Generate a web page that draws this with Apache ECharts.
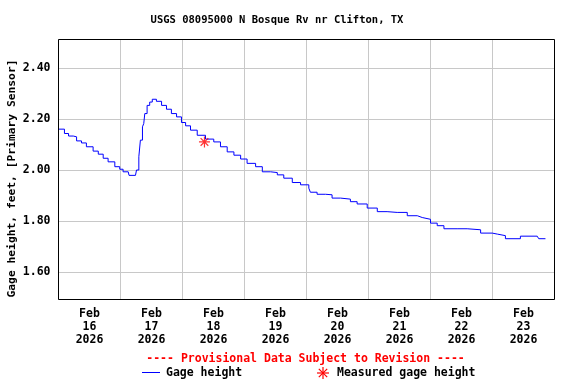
<!DOCTYPE html>
<html>
<head>
<meta charset="utf-8">
<script src="https://cdn.jsdelivr.net/npm/echarts@6/dist/echarts.min.js"></script>
<style>html,body{margin:0;padding:0;background:#fff}#c{width:576px;height:384px}</style>
</head>
<body>
<div id="c"></div>
<script>
// hours since Feb 16 2026 00:00
const gageHours = [0,2.3,3.9,5.7,7.0,8.9,10.8,13.4,15.4,17.3,19.2,21.8,23.7,25.0,27.0,27.3,29.8,30.2,31.1,31.7,32.5,33.0,33.4,34.3,35.3,36.3,37.9,39.9,41.8,43.7,45.7,47.6,49.2,51.1,53.7,56.9,60.1,62.7,65.3,67.9,70.5,73.0,76.3,78.9,82.1,84.7,87.2,90.5,93.7,96.9,97.5,100.1,103.4,105.9,109.2,113.0,115.6,119.5,123.4,127.2,131.1,135.0,138.9,140.8,144.0,146.6,149.2,154.3,158.2,163.4,167.9,169.9,173.0,178.8,185.3,185.9,188.5];
const gageValues = [2.160,2.143,2.133,2.130,2.114,2.106,2.091,2.074,2.062,2.046,2.032,2.013,2.003,1.993,1.987,1.979,1.979,2.000,2.052,2.117,2.169,2.182,2.221,2.253,2.266,2.277,2.269,2.253,2.238,2.221,2.208,2.186,2.173,2.156,2.136,2.121,2.110,2.091,2.071,2.058,2.043,2.026,2.013,1.993,1.990,1.981,1.968,1.951,1.942,1.929,1.913,1.905,1.903,1.890,1.886,1.876,1.867,1.851,1.837,1.834,1.834,1.821,1.814,1.807,1.792,1.782,1.770,1.770,1.766,1.753,1.749,1.743,1.731,1.741,1.741,1.731,1.731];
const measuredHours = [56.5];
const measuredValues = [2.11];
const yTicks = [1.60, 1.80, 2.00, 2.20, 2.40];
const xLabelHours = [12, 36, 60, 84, 108, 132, 156, 180];
const xTickLabels = ['Feb\n16\n2026','Feb\n17\n2026','Feb\n18\n2026','Feb\n19\n2026','Feb\n20\n2026','Feb\n21\n2026','Feb\n22\n2026','Feb\n23\n2026'];

const FONT = '"DejaVu Sans Mono", "Liberation Mono", monospace';
const ASTER = 'path://M6,0L6,12M0,6L12,6M1.8,1.8L10.2,10.2M1.8,10.2L10.2,1.8';

function asterLines(cx, cy, r, d) {
  const s = {stroke: '#ff0000', lineWidth: 1.2};
  return [
    {type: 'line', shape: {x1: cx, y1: cy - r, x2: cx, y2: cy + r}, style: s},
    {type: 'line', shape: {x1: cx - r, y1: cy, x2: cx + r, y2: cy}, style: s},
    {type: 'line', shape: {x1: cx - d, y1: cy - d, x2: cx + d, y2: cy + d}, style: s},
    {type: 'line', shape: {x1: cx - d, y1: cy + d, x2: cx + d, y2: cy - d}, style: s}
  ];
}

const chart = echarts.init(document.getElementById('c'), null, {renderer: 'canvas'});
chart.setOption({
  animation: false,
  backgroundColor: '#fff',
  textStyle: {fontFamily: FONT},
  grid: {left: 58.5, right: 21.5, top: 39.5, bottom: 84.5, show: true, borderColor: '#000', borderWidth: 1, containLabel: false, z: 5},
  xAxis: {
    type: 'value', min: 0, max: 192, interval: 24,
    axisLine: {show: false}, axisTick: {show: false},
    splitLine: {show: true, lineStyle: {color: '#c8c8c8', width: 1}},
    axisLabel: {
      customValues: xLabelHours,
      formatter: v => xTickLabels[xLabelHours.indexOf(Math.round(v))] || '',
      fontFamily: FONT, fontWeight: 'bold', fontSize: 11.5, color: '#000',
      lineHeight: 13, margin: 8
    }
  },
  yAxis: {
    type: 'value', min: 1.493, max: 2.511,
    axisLine: {show: false},
    axisTick: {show: false, customValues: yTicks},
    splitLine: {show: true, lineStyle: {color: '#c8c8c8', width: 1}},
    axisLabel: {
      customValues: yTicks,
      formatter: v => v.toFixed(2),
      fontFamily: FONT, fontWeight: 'bold', fontSize: 11.5, color: '#000', margin: 8
    }
  },
  series: [
    {
      type: 'line', name: 'Gage height',
      data: gageHours.map((h, i) => [h, gageValues[i]]),
      showSymbol: false, symbol: 'none', step: 'end',
      lineStyle: {color: '#0000ff', width: 1},
      z: 3
    },
    {
      type: 'scatter', name: 'Measured gage height',
      data: measuredHours.map((h, i) => [h, measuredValues[i]]),
      symbol: ASTER, symbolSize: 11,
      itemStyle: {color: 'none', borderColor: '#ff0000', borderWidth: 1.2},
      z: 4
    }
  ],
  graphic: [
    {type: 'text', x: 277, y: 20, style: {text: 'USGS 08095000 N Bosque Rv nr Clifton, TX', font: 'bold 10.5px ' + FONT, fill: '#000', textAlign: 'center', textVerticalAlign: 'middle'}},
    {type: 'text', x: 12, y: 178.5, rotation: Math.PI / 2, style: {text: 'Gage height, feet, [Primary Sensor]', font: 'bold 11.3px ' + FONT, fill: '#000', textAlign: 'center', textVerticalAlign: 'middle'}},
    {type: 'text', x: 305.5, y: 359, style: {text: '---- Provisional Data Subject to Revision ----', font: 'bold 11.5px ' + FONT, fill: '#ff0000', textAlign: 'center', textVerticalAlign: 'middle'}},
    {type: 'line', shape: {x1: 142, y1: 372.5, x2: 160, y2: 372.5}, style: {stroke: '#0000ff', lineWidth: 1}},
    {type: 'text', x: 166, y: 373, style: {text: 'Gage height', font: 'bold 11.5px ' + FONT, fill: '#000', textAlign: 'left', textVerticalAlign: 'middle'}},
    ...asterLines(323, 373, 6, 4.2),
    {type: 'text', x: 337, y: 373, style: {text: 'Measured gage height', font: 'bold 11.5px ' + FONT, fill: '#000', textAlign: 'left', textVerticalAlign: 'middle'}}
  ]
});
</script>
</body>
</html>
